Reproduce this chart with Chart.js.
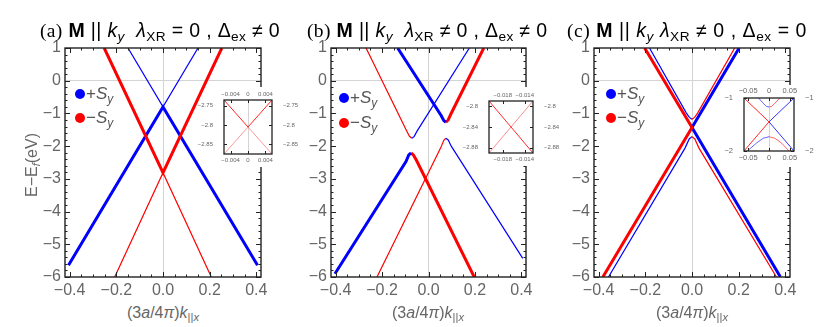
<!DOCTYPE html>
<html>
<head>
<meta charset="utf-8">
<script src="https://cdn.jsdelivr.net/npm/chart.js@4.4.0/dist/chart.umd.min.js"></script>
<style>
  body { margin: 0; width: 817px; height: 327px; position: relative; overflow: hidden; background: #fff;
         font-family: "Liberation Sans", Arial, sans-serif; }
  canvas { position: absolute; display: block; }
  .title { position: absolute; top: 21px; font-size: 19.5px; line-height: 19px; letter-spacing: 0.35px;
           white-space: nowrap; color: #000; }
  .title .serif { font-family: "Liberation Serif", serif; }
  sub { font-size: 0.7em; vertical-align: -0.3em; line-height: 0; }
  .xlab, .ylab { position: absolute; font-size: 16px; line-height: 16px; color: #666; white-space: nowrap; }
  .xlab { top: 305px; transform: translateX(-50%); }
  .ylab { transform: translate(-50%, -50%) rotate(-90deg); }
  .dot { position: absolute; width: 10px; height: 10px; border-radius: 50%; }
  .leg { position: absolute; font-size: 17px; line-height: 17px; color: #555; white-space: nowrap; }
</style>
</head>
<body>
<canvas id="chartA" width="281" height="260" style="left:0px;top:40px"></canvas>
<canvas id="chartB" width="281" height="260" style="left:266px;top:40px"></canvas>
<canvas id="chartC" width="281" height="260" style="left:529px;top:40px"></canvas>
<canvas id="insetA"></canvas>
<canvas id="insetB"></canvas>
<canvas id="insetC"></canvas>

<div class="title" style="left:40px"><span class="serif">(a)</span> <b>M</b> || <i>k</i><sub><i>y</i></sub>&nbsp; <i>λ</i><sub>XR</sub> = 0 , Δ<sub>ex</sub> ≠ 0</div>
<div class="title" style="left:307px"><span class="serif">(b)</span> <b>M</b> || <i>k</i><sub><i>y</i></sub>&nbsp; <i>λ</i><sub>XR</sub> ≠ 0 , Δ<sub>ex</sub> ≠ 0</div>
<div class="title" style="left:567px;letter-spacing:0.55px"><span class="serif">(c)</span> <b>M</b> || <i>k</i><sub><i>y</i></sub> <i>λ</i><sub>XR</sub> ≠ 0 , Δ<sub>ex</sub> = 0</div>

<div class="ylab" style="left:32px;top:165px">E−E<sub><i>f</i></sub>(eV)</div>
<div class="xlab" style="left:163px">(3<i>a</i>/4<i>π</i>)<i>k</i><sub>||<i>x</i></sub></div>
<div class="xlab" style="left:428px">(3<i>a</i>/4<i>π</i>)<i>k</i><sub>||<i>x</i></sub></div>
<div class="xlab" style="left:692px">(3<i>a</i>/4<i>π</i>)<i>k</i><sub>||<i>x</i></sub></div>

<div class="dot" style="left:75px;top:89px;background:#0000ff"></div>
<div class="leg" style="left:86px;top:85px">+<i>S</i><sub><i>y</i></sub></div>
<div class="dot" style="left:75px;top:113px;background:#ff0000"></div>
<div class="leg" style="left:86px;top:109px">−<i>S</i><sub><i>y</i></sub></div>
<div class="dot" style="left:339px;top:93px;background:#0000ff"></div>
<div class="leg" style="left:350px;top:89px">+<i>S</i><sub><i>y</i></sub></div>
<div class="dot" style="left:339px;top:118px;background:#ff0000"></div>
<div class="leg" style="left:350px;top:114px">−<i>S</i><sub><i>y</i></sub></div>
<div class="dot" style="left:606px;top:89px;background:#0000ff"></div>
<div class="leg" style="left:617px;top:85px">+<i>S</i><sub><i>y</i></sub></div>
<div class="dot" style="left:606px;top:113px;background:#ff0000"></div>
<div class="leg" style="left:617px;top:109px">−<i>S</i><sub><i>y</i></sub></div>

<script>
// shared axes of the three main panels
const xTicks = [-0.4, -0.2, 0, 0.2, 0.4];
const xTickLabels = ['−0.4', '−0.2', '0.0', '0.2', '0.4'];
const yTicks = [1, 0, -1, -2, -3, -4, -5, -6];
const yTickLabels = ['1', '0', '−1', '−2', '−3', '−4', '−5', '−6'];

// (a) lambda_XR = 0, Delta_ex != 0 : [k, E]
const aBlueUpper = [[-0.15, 1], [0, -0.8], [0.15, 1]];
const aBlueLower = [[-0.405, -5.64], [0, -0.8], [0.405, -5.64]];
const aRedUpper = [[-0.252, 1], [0, -2.81], [0.252, 1]];
const aRedLower = [[-0.207, -6], [0, -2.81], [0.207, -6]];

// (b) lambda_XR != 0, Delta_ex != 0
const bUpperThinL = [[-0.269, 1], [-0.095, -1.52], [-0.082, -1.7], [-0.072, -1.76]];
const bUpperThinR = [[-0.072, -1.76], [-0.062, -1.71], [-0.05, -1.55], [0.176, 1]];
const bUpperThickL = [[-0.133, 1], [0.055, -1.07], [0.066, -1.22], [0.075, -1.27]];
const bUpperThickR = [[0.075, -1.27], [0.085, -1.2], [0.097, -1.01], [0.238, 1]];
const bLowerThinL = [[-0.222, -6], [0.052, -2.06], [0.066, -1.82], [0.075, -1.76]];
const bLowerThinR = [[0.075, -1.76], [0.085, -1.81], [0.098, -2.0], [0.406, -5.43]];
const bLowerThickL = [[-0.403, -5.9], [-0.097, -2.47], [-0.085, -2.27], [-0.075, -2.21]];
const bLowerThickR = [[-0.075, -2.21], [-0.065, -2.27], [-0.052, -2.43], [0.197, -6]];

// (c) lambda_XR != 0, Delta_ex = 0
const cRedX = [[-0.203, 1], [0, -1.43], [-0.382, -6]];
const cBlueX = [[0.202, 1], [0, -1.43], [0.379, -6]];
const cUpperThinL = [[-0.182, 1], [-0.024, -0.99], [-0.011, -1.12], [0, -1.18]];
const cUpperThinR = [[0, -1.18], [0.011, -1.12], [0.024, -0.99], [0.183, 1]];
const cLowerThinL = [[-0.358, -6], [-0.03, -2.06], [-0.012, -1.78], [0, -1.71]];
const cLowerThinR = [[0, -1.71], [0.012, -1.78], [0.03, -2.06], [0.362, -6]];

// insets
const iaXTicks = [-0.004, 0, 0.004];
const iaXLabels = ['−0.004', '0', '0.004'];
const iaYTicks = [-2.75, -2.8, -2.85];
const iaYLabels = ['−2.75', '−2.8', '−2.85'];
const iaRedUpper = [[-0.0055, -2.735], [0, -2.805], [0.0055, -2.735]];
const iaRedLower = [[-0.0055, -2.875], [0, -2.805], [0.0055, -2.875]];

const ibXTicks = [-0.018, -0.014];
const ibXLabels = ['−0.018', '−0.014'];
const ibYTicks = [-2.8, -2.84, -2.88];
const ibYLabels = ['−2.8', '−2.84', '−2.88'];
const ibRedDown = [[-0.0205, -2.79], [-0.0125, -2.89]];
const ibRedUp = [[-0.0205, -2.89], [-0.0125, -2.79]];

const icXTicks = [-0.05, 0, 0.05];
const icXLabels = ['−0.05', '0', '0.05'];
const icYTicks = [-1, -2];
const icYLabels = ['−1', '−2'];
const icRedX = [[-0.06, -1], [0, -1.45], [-0.06, -2]];
const icBlueX = [[0.06, -1], [0, -1.45], [0.06, -2]];
const icUpperL = [[-0.025, -1], [-0.014, -1.1], [-0.006, -1.16], [0, -1.17]];
const icUpperR = [[0, -1.17], [0.006, -1.16], [0.014, -1.1], [0.026, -1]];
const icLowerL = [[-0.052, -2], [-0.03, -1.85], [-0.014, -1.76], [0, -1.73]];
const icLowerR = [[0, -1.73], [0.014, -1.76], [0.03, -1.85], [0.048, -2]];

const BLUE = '#0000ff', RED = '#ff0000';
const GRAY = '#666666', ZERO = '#d4d4d4', FRAME = '#222222';
const FONT = '"Liberation Sans", Arial, sans-serif';

function line(points, color, width) {
  return {
    data: points.map(p => ({ x: p[0], y: p[1] })),
    borderColor: color, borderWidth: width,
    pointRadius: 0, tension: 0, fill: false, clip: 0
  };
}

// frame round the plot with inward ticks on all four sides
const frameTicks = {
  id: 'frameTicks',
  beforeDraw(chart, args, o) {
    if (!o.white) return;
    const a = chart.chartArea, w = o.white;
    chart.ctx.save();
    chart.ctx.fillStyle = '#fff';
    chart.ctx.fillRect(a.left - w.l, a.top - w.t, a.width + w.l + w.r, a.height + w.t + w.b);
    chart.ctx.restore();
  },
  afterDatasetsDraw(chart, args, o) {
    const { ctx, chartArea: a } = chart;
    const xs = chart.scales.x, ys = chart.scales.y;
    ctx.save();
    ctx.strokeStyle = FRAME;
    ctx.lineWidth = 1;
    ctx.beginPath();
    const tickX = (v, len) => {
      const p = Math.round(xs.getPixelForValue(v)) + 0.5;
      ctx.moveTo(p, a.bottom); ctx.lineTo(p, a.bottom - len);
      ctx.moveTo(p, a.top); ctx.lineTo(p, a.top + len);
    };
    const tickY = (v, len) => {
      const p = Math.round(ys.getPixelForValue(v)) + 0.5;
      ctx.moveTo(a.left, p); ctx.lineTo(a.left + len, p);
      ctx.moveTo(a.right, p); ctx.lineTo(a.right - len, p);
    };
    if (o.xMinor) for (let v = Math.ceil(xs.min / o.xMinor) * o.xMinor; v <= xs.max + 1e-9; v += o.xMinor) tickX(v, o.minor);
    if (o.yMinor) for (let v = Math.ceil(ys.min / o.yMinor) * o.yMinor; v <= ys.max + 1e-9; v += o.yMinor) tickY(v, o.minor);
    xs.ticks.forEach(t => tickX(t.value, o.major));
    ys.ticks.forEach(t => tickY(t.value, o.major));
    ctx.stroke();
    ctx.lineWidth = o.frameWidth;
    ctx.strokeRect(a.left, a.top, a.width, a.height);
    ctx.restore();
  }
};

const zeroGrid = c => (c.tick && c.tick.value === 0 ? ZERO : 'rgba(0,0,0,0)');

function mainChart(id, datasets, rightPad) {
  return new Chart(document.getElementById(id), {
    type: 'line',
    data: { datasets },
    options: {
      responsive: false, animation: false, events: [],
      layout: { padding: { top: 8, right: rightPad, left: 0, bottom: 0 } },
      plugins: {
        legend: { display: false }, tooltip: { enabled: false },
        frameTicks: { xMinor: 0.05, yMinor: 0.2, major: 5, minor: 2.5, frameWidth: 1.4 }
      },
      scales: {
        x: {
          type: 'linear', min: -0.42, max: 0.42,
          afterBuildTicks: s => { s.ticks = xTicks.map(v => ({ value: v })); },
          afterFit: s => { s.height = 23; s.paddingLeft = 0; s.paddingRight = 0; },
          ticks: { callback: (v, i) => xTickLabels[i], color: GRAY, font: { family: FONT, size: 16 },
                   padding: 4, maxRotation: 0, autoSkip: false },
          grid: { color: zeroGrid, drawTicks: false },
          border: { display: false }
        },
        y: {
          type: 'linear', min: -6, max: 1,
          afterBuildTicks: s => { s.ticks = yTicks.map(v => ({ value: v })); },
          afterFit: s => { s.width = 65; s.paddingTop = 0; s.paddingBottom = 0; },
          ticks: { callback: (v, i) => yTickLabels[i], color: GRAY, font: { family: FONT, size: 16 },
                   padding: 4, autoSkip: false },
          grid: { color: zeroGrid, drawTicks: false },
          border: { display: false }
        }
      }
    },
    plugins: [frameTicks]
  });
}

// frame: page rectangle of the inset plot area; white: blank margin round it
function insetChart(id, datasets, ax, frame, white, fontSize) {
  const m = 32;
  const cv = document.getElementById(id);
  cv.width = frame.w + 2 * m;
  cv.height = frame.h + 2 * m;
  cv.style.left = (frame.x - m) + 'px';
  cv.style.top = (frame.y - m) + 'px';
  const tickFont = { family: FONT, size: fontSize };
  const xAxis = pos => ({
    type: 'linear', position: pos, min: ax.xMin, max: ax.xMax,
    afterBuildTicks: s => { s.ticks = ax.xTicks.map(v => ({ value: v })); },
    afterFit: s => { s.height = m; s.paddingLeft = 0; s.paddingRight = 0; },
    ticks: { callback: (v, i) => ax.xLabels[i], color: GRAY, font: tickFont, padding: 2.5, maxRotation: 0, autoSkip: false },
    grid: { color: pos === 'bottom' ? zeroGrid : 'rgba(0,0,0,0)', drawTicks: false },
    border: { display: false }
  });
  const yAxis = pos => ({
    type: 'linear', position: pos, min: ax.yMin, max: ax.yMax,
    afterBuildTicks: s => { s.ticks = ax.yTicks.map(v => ({ value: v })); },
    afterFit: s => { s.width = m; s.paddingTop = 0; s.paddingBottom = 0; },
    ticks: { callback: (v, i) => ax.yLabels[i], color: GRAY, font: tickFont, padding: 3, autoSkip: false },
    grid: { display: false },
    border: { display: false }
  });
  return new Chart(cv, {
    type: 'line',
    data: { datasets },
    options: {
      responsive: false, animation: false, events: [],
      layout: { padding: 0 },
      plugins: {
        legend: { display: false }, tooltip: { enabled: false },
        frameTicks: { major: 3, minor: 0, frameWidth: 1.3, white }
      },
      scales: { x: xAxis('bottom'), x2: xAxis('top'), y: yAxis('left'), y2: yAxis('right') }
    },
    plugins: [frameTicks]
  });
}

const THICK = 3, THIN = 1.2;

mainChart('chartA', [
  line(aRedLower, RED, THIN), line(aBlueUpper, BLUE, THIN),
  line(aRedUpper, RED, THICK), line(aBlueLower, BLUE, THICK)
], 20);

mainChart('chartB', [
  line(bUpperThinL, RED, THIN), line(bUpperThinR, BLUE, THIN),
  line(bLowerThinL, RED, THIN), line(bLowerThinR, BLUE, THIN),
  line(bUpperThickL, BLUE, THICK), line(bUpperThickR, RED, THICK),
  line(bLowerThickL, BLUE, THICK), line(bLowerThickR, RED, THICK)
], 21);

mainChart('chartC', [
  line(cUpperThinL, BLUE, THIN), line(cUpperThinR, RED, THIN),
  line(cLowerThinL, BLUE, THIN), line(cLowerThinR, RED, THIN),
  line(cRedX, RED, THICK), line(cBlueX, BLUE, THICK)
], 20);

insetChart('insetA', [
  line(iaRedUpper, 'rgba(255,0,0,0.85)', 1), line(iaRedLower, 'rgba(255,0,0,0.4)', 1)
], { xMin: -0.0055, xMax: 0.0055, yMin: -2.875, yMax: -2.735,
     xTicks: iaXTicks, xLabels: iaXLabels, yTicks: iaYTicks, yLabels: iaYLabels },
   { x: 224, y: 100, w: 48, h: 54 }, { l: 19, r: 15, t: 13, b: 13 }, 6);

insetChart('insetB', [
  line(ibRedDown, 'rgba(255,0,0,0.85)', 1), line(ibRedUp, 'rgba(255,0,0,0.45)', 1)
], { xMin: -0.0205, xMax: -0.0125, yMin: -2.89, yMax: -2.79,
     xTicks: ibXTicks, xLabels: ibXLabels, yTicks: ibYTicks, yLabels: ibYLabels },
   { x: 489, y: 101, w: 44, h: 52 }, { l: 19, r: 16, t: 14, b: 13 }, 6);

insetChart('insetC', [
  line(icUpperL, 'rgba(0,0,255,0.6)', 1), line(icUpperR, 'rgba(255,0,0,0.6)', 1),
  line(icLowerL, 'rgba(0,0,255,0.6)', 1), line(icLowerR, 'rgba(255,0,0,0.6)', 1),
  line(icRedX, 'rgba(255,0,0,0.85)', 1), line(icBlueX, 'rgba(0,0,255,0.8)', 1)
], { xMin: -0.06, xMax: 0.06, yMin: -2, yMax: -1,
     xTicks: icXTicks, xLabels: icXLabels, yTicks: icYTicks, yLabels: icYLabels },
   { x: 744, y: 98, w: 50, h: 53 }, { l: 10, r: 23, t: 13, b: 16 }, 7.5);
</script>
</body>
</html>
